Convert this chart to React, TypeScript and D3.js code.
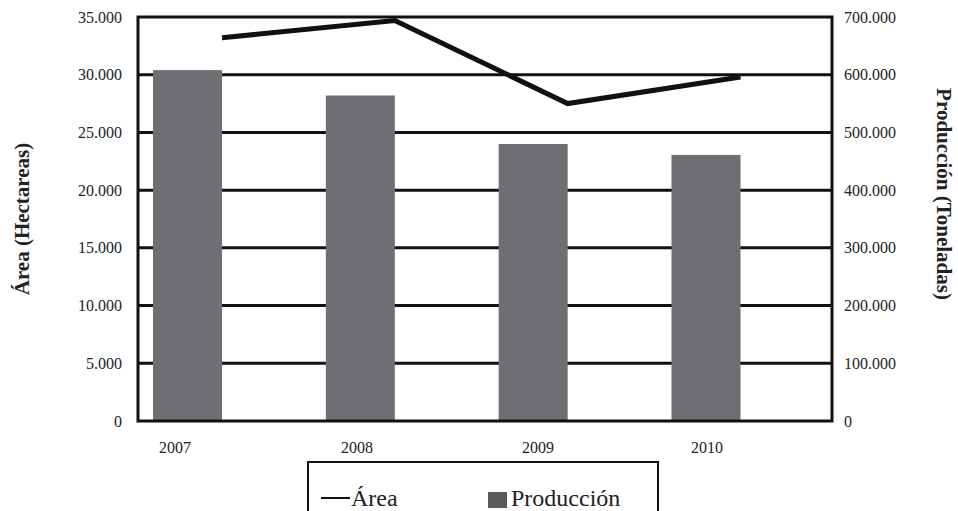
import React from 'react';
import * as d3 from 'd3';

const years = ['2007', '2008', '2009', '2010'];
const produccion = [608000, 564000, 480000, 461000];
const area = [33200, 34700, 27500, 29800];
const areaTicks = [0, 5000, 10000, 15000, 20000, 25000, 30000, 35000];
const prodTicks = [0, 100000, 200000, 300000, 400000, 500000, 600000, 700000];

const W = 958, H = 511;
const L = 138, R = 832, T = 17, B = 421;
const barW = 69;
const FONT = "'Liberation Serif', 'Times New Roman', serif";
const ts: React.CSSProperties = { fontFamily: FONT };

const fmt = (v: number) => (v === 0 ? '0' : d3.format(',')(v).replace(/,/g, '.'));

export default function App() {
  const x = d3.scalePoint<string>().domain(years).range([187.5, 706]);
  const yA = d3.scaleLinear().domain([0, 35000]).range([B, T]);
  const yP = d3.scaleLinear().domain([0, 700000]).range([B, T]);
  const line = d3
    .line<number>()
    .x((_, i) => (x(years[i]) as number) + barW / 2)
    .y((d) => yA(d));

  return (
    <svg width={W} height={H} style={{ position: 'absolute', left: 0, top: 0, background: '#fff', fontFamily: FONT }}>
      {areaTicks.slice(1, -1).map((t) => (
        <line key={t} x1={L} x2={R} y1={yA(t)} y2={yA(t)} stroke="#111" strokeWidth={3} />
      ))}
      {produccion.map((v, i) => (
        <rect key={years[i]} x={(x(years[i]) as number) - barW / 2} y={yP(v)} width={barW} height={B - yP(v)} fill="#6e6f72" />
      ))}
      <rect x={L} y={T} width={R - L} height={B - T} fill="none" stroke="#111" strokeWidth={3} />
      <path d={line(area) || ''} fill="none" stroke="#111" strokeWidth={5} strokeLinejoin="miter" />
      {areaTicks.map((t) => (
        <text key={t} style={ts} x={122} y={yA(t)} dy="0.35em" textAnchor="end" fontSize={16} fill="#222">
          {fmt(t)}
        </text>
      ))}
      {prodTicks.map((t) => (
        <text key={t} style={ts} x={844} y={yP(t)} dy="0.35em" textAnchor="start" fontSize={16} fill="#222">
          {fmt(t)}
        </text>
      ))}
      {years.map((yr, i) => (
        <text key={yr} style={ts} x={[175, 357, 538, 707][i]} y={447} dy="0.35em" textAnchor="middle" fontSize={16} fill="#222">
          {yr}
        </text>
      ))}
      <text style={ts} transform="translate(22,219) rotate(-90)" textAnchor="middle" dy="0.35em" fontSize={21} fontWeight="bold" fill="#222">
        Área (Hectareas)
      </text>
      <text style={ts} transform="translate(944,194) rotate(90)" textAnchor="middle" dy="0.35em" fontSize={21} fontWeight="bold" fill="#222">
        Producción (Toneladas)
      </text>
      <rect x={308} y={462} width={350} height={60} fill="#fff" stroke="#111" strokeWidth={2} />
      <line x1={321} x2={350} y1={498} y2={498} stroke="#111" strokeWidth={2} />
      <text style={ts} x={351} y={506} fontSize={24} fill="#222">Área</text>
      <rect x={488} y={492} width={19} height={16} fill="#58595b" />
      <text style={ts} x={511} y={506} fontSize={24} fill="#222">Producción</text>
    </svg>
  );
}
